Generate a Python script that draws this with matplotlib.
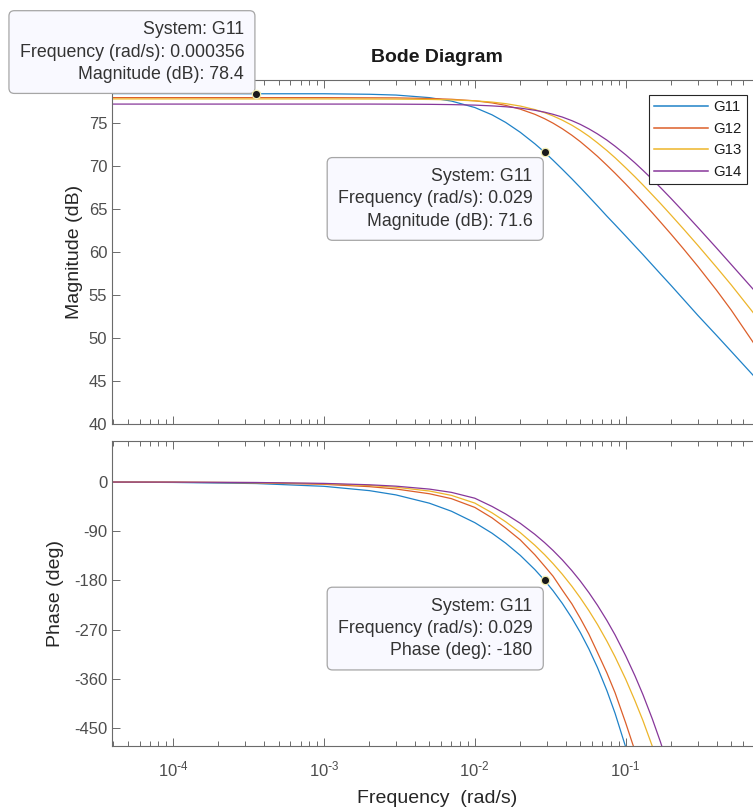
import numpy as np
import matplotlib.pyplot as plt
from matplotlib.ticker import LogLocator, NullFormatter, FixedLocator, FuncFormatter

plt.rcParams['font.family'] = ['Liberation Sans', 'DejaVu Sans']
plt.rcParams['mathtext.default'] = 'regular'
plt.rcParams['axes.unicode_minus'] = False

# frequency grid (rad/s) shared by all four systems
freq = [4e-5, 1e-4, 3.56e-4, 1e-3, 2e-3, 3e-3, 5e-3, 7e-3, 0.01, 0.013, 0.016,
        0.02, 0.025, 0.029, 0.033, 0.038, 0.044, 0.05, 0.057, 0.065, 0.075,
        0.085, 0.1, 0.115, 0.13, 0.15, 0.17, 0.2, 0.24, 0.3, 0.4, 0.5, 0.7]

systems = ['G11', 'G12', 'G13', 'G14']
colors = ['#1f82c8', '#dc5f2a', '#edb52a', '#87379a']

mag_g11 = [78.42, 78.42, 78.4, 78.4, 78.34, 78.25, 77.95, 77.55, 76.8, 75.95, 75.07,
           73.92, 72.58, 71.6, 70.67, 69.62, 68.5, 67.49, 66.43, 65.36, 64.17,
           63.17, 61.85, 60.7, 59.7, 58.5, 57.45, 56.1, 54.55, 52.65, 50.3, 48.45, 45.65]
mag_g12 = [77.95, 77.95, 77.95, 77.95, 77.93, 77.92, 77.85, 77.76, 77.58, 77.34, 77.05,
           76.61, 76.01, 75.5, 74.98, 74.33, 73.57, 72.83, 71.99, 71.12, 70.09,
           69.16, 67.9, 66.77, 65.76, 64.56, 63.48, 62.06, 60.42, 58.35, 55.55, 53.25, 49.48]
mag_g13 = [77.8, 77.8, 77.8, 77.8, 77.79, 77.78, 77.74, 77.69, 77.58, 77.43, 77.25,
           76.97, 76.56, 76.2, 75.82, 75.33, 74.74, 74.14, 73.46, 72.69, 71.8,
           70.96, 69.79, 68.75, 67.8, 66.65, 65.64, 64.28, 62.73, 60.79, 58.22, 56.18, 52.94]
mag_g14 = [77.2, 77.2, 77.2, 77.2, 77.2, 77.19, 77.17, 77.14, 77.08, 76.99, 76.89,
           76.73, 76.48, 76.26, 76.01, 75.69, 75.27, 74.84, 74.32, 73.73, 73.01,
           72.3, 71.3, 70.37, 69.5, 68.45, 67.49, 66.21, 64.73, 62.88, 60.46, 58.55, 55.66]

# phase lists stop once the curve has left the visible range
ph_g11 = [-0.3, -0.8, -2.8, -7.9, -15.8, -23.6, -38.8, -53.5, -74.4, -93.7, -111.8,
          -134.2, -160.3, -180, -199.0, -222.1, -249.0, -275.3, -305.5, -339.6, -381.6,
          -423.2, -485.2, -546.9]
ph_g12 = [-0.17, -0.43, -1.5, -4.3, -8.5, -12.8, -21.5, -30.5, -46.5, -65.6, -84.2,
          -105.9, -133.2, -154, -172.4, -197.7, -223.1, -249.4, -278.4, -312.0, -349.2,
          -385.6, -441.0, -491.6]
ph_g13 = [-0.13, -0.32, -1.15, -3.2, -6.4, -9.6, -16.5, -24.5, -38.6, -56.4, -72.7,
          -92.6, -115.8, -133.0, -149.4, -168.8, -190.9, -212.0, -235.3, -260.7, -291.1,
          -319.9, -360.9, -399.9, -436.4, -483.4, -527.9]
ph_g14 = [-0.1, -0.25, -0.9, -2.55, -5.1, -7.6, -13, -19, -29.7, -44.7, -58.5,
          -75.6, -95.8, -110.9, -125.3, -142.5, -162.3, -181.2, -202.4, -225.6, -253.3,
          -279.8, -318.1, -354.3, -388.9, -433.4, -475.8, -537.0]

mags = [mag_g11, mag_g12, mag_g13, mag_g14]
phases = [ph_g11, ph_g12, ph_g13, ph_g14]

W, H = 753, 807
fig = plt.figure(figsize=(W / 100, H / 100), dpi=100)


def px_axes(left, top, right, bottom):
    return fig.add_axes([left / W, 1 - bottom / H, (right - left) / W, (bottom - top) / H])


def decade_label(v, pos):
    e = int(round(np.log10(v)))
    sign = r'\text{-}' if e < 0 else ''
    return r'$\mathdefault{10^{%s%d}}$' % (sign, abs(e))


ax_mag = px_axes(112, 80, 762, 424)
ax_ph = px_axes(112, 441, 762, 746)

spine_c = '#6b6b6b'
label_c = '#4d4d4d'

for ax in (ax_mag, ax_ph):
    ax.set_xscale('log')
    ax.set_xlim(3.94e-5, 0.8)
    ax.xaxis.set_major_locator(LogLocator(base=10, numticks=10))
    ax.xaxis.set_major_formatter(FuncFormatter(decade_label))
    ax.xaxis.set_minor_locator(LogLocator(base=10, subs=np.arange(2, 10), numticks=10))
    ax.xaxis.set_minor_formatter(NullFormatter())
    for s in ax.spines.values():
        s.set_color(spine_c)
        s.set_linewidth(0.8)
    ax.tick_params(which='both', direction='in', top=True, right=True,
                   colors=spine_c, labelcolor=label_c, labelsize=12, width=0.7)
    ax.tick_params(which='major', length=6)
    ax.tick_params(which='minor', length=3.5)

for m, c, name in zip(mags, colors, systems):
    ax_mag.plot(freq, m, color=c, lw=0.9, label=name)
for p, c in zip(phases, colors):
    ax_ph.plot(freq[:len(p)], p, color=c, lw=0.9)

ax_mag.set_ylim(40, 80)
ax_mag.yaxis.set_major_locator(FixedLocator(np.arange(40, 76, 5)))
ax_mag.tick_params(labelbottom=False)
ax_ph.set_ylim(-483, 75)
ax_ph.yaxis.set_major_locator(FixedLocator(np.arange(-450, 1, 90)))
ax_ph.tick_params(axis='x', which='major', pad=10)

ax_mag.set_ylabel('Magnitude (dB)', fontsize=14, color='#262626', labelpad=4)
ax_ph.set_ylabel('Phase (deg)', fontsize=14, color='#262626', labelpad=7)
ax_ph.set_xlabel('Frequency  (rad/s)', fontsize=14, color='#262626', labelpad=7)
fig.text(437 / W, 1 - 57 / H, 'Bode Diagram', ha='center', va='center',
         fontsize=14, fontweight='bold', color='#1a1a1a')

leg = ax_mag.legend(loc='upper right', bbox_to_anchor=(747 / W, 1 - 95 / H),
                    bbox_transform=fig.transFigure, fontsize=10.8, frameon=True,
                    fancybox=False, framealpha=1, edgecolor='#262626',
                    handlelength=3.6, handletextpad=0.35, borderpad=0.35,
                    labelspacing=0.5, borderaxespad=0)
leg.get_frame().set_linewidth(0.8)
for t in leg.get_texts():
    t.set_color('#1a1a1a')
for ln in leg.get_lines():
    ln.set_linewidth(1.1)

tip_box = dict(boxstyle='round,pad=0.6,rounding_size=0.3', fc='#f9f9ff', ec='#a6a6a6', lw=0.9)


def data_tip(ax, x, y, text, dx, dy, va):
    ax.plot([x], [y], 'o', ms=6, mfc='#1a1a1a', mec='#f2eeb0', mew=0.9, zorder=11, clip_on=False)
    ax.annotate(text, xy=(x, y), xytext=(dx, dy), textcoords='offset pixels',
                ha='right', va=va, multialignment='right', fontsize=12.8,
                color='#333333', linespacing=1.4, bbox=tip_box, zorder=10,
                annotation_clip=False)


i_lo = freq.index(3.56e-4)
i_mid = freq.index(0.029)
data_tip(ax_mag, freq[i_lo], mag_g11[i_lo],
         'System: G11\nFrequency (rad/s): %g\nMagnitude (dB): %.1f' % (freq[i_lo], mag_g11[i_lo]),
         -12, 11, 'bottom')
data_tip(ax_mag, freq[i_mid], mag_g11[i_mid],
         'System: G11\nFrequency (rad/s): %g\nMagnitude (dB): %.1f' % (freq[i_mid], mag_g11[i_mid]),
         -12, -16, 'top')
data_tip(ax_ph, freq[i_mid], ph_g11[i_mid],
         'System: G11\nFrequency (rad/s): %g\nPhase (deg): %g' % (freq[i_mid], ph_g11[i_mid]),
         -12, -17.5, 'top')

fig.savefig('out.png', dpi=100)
